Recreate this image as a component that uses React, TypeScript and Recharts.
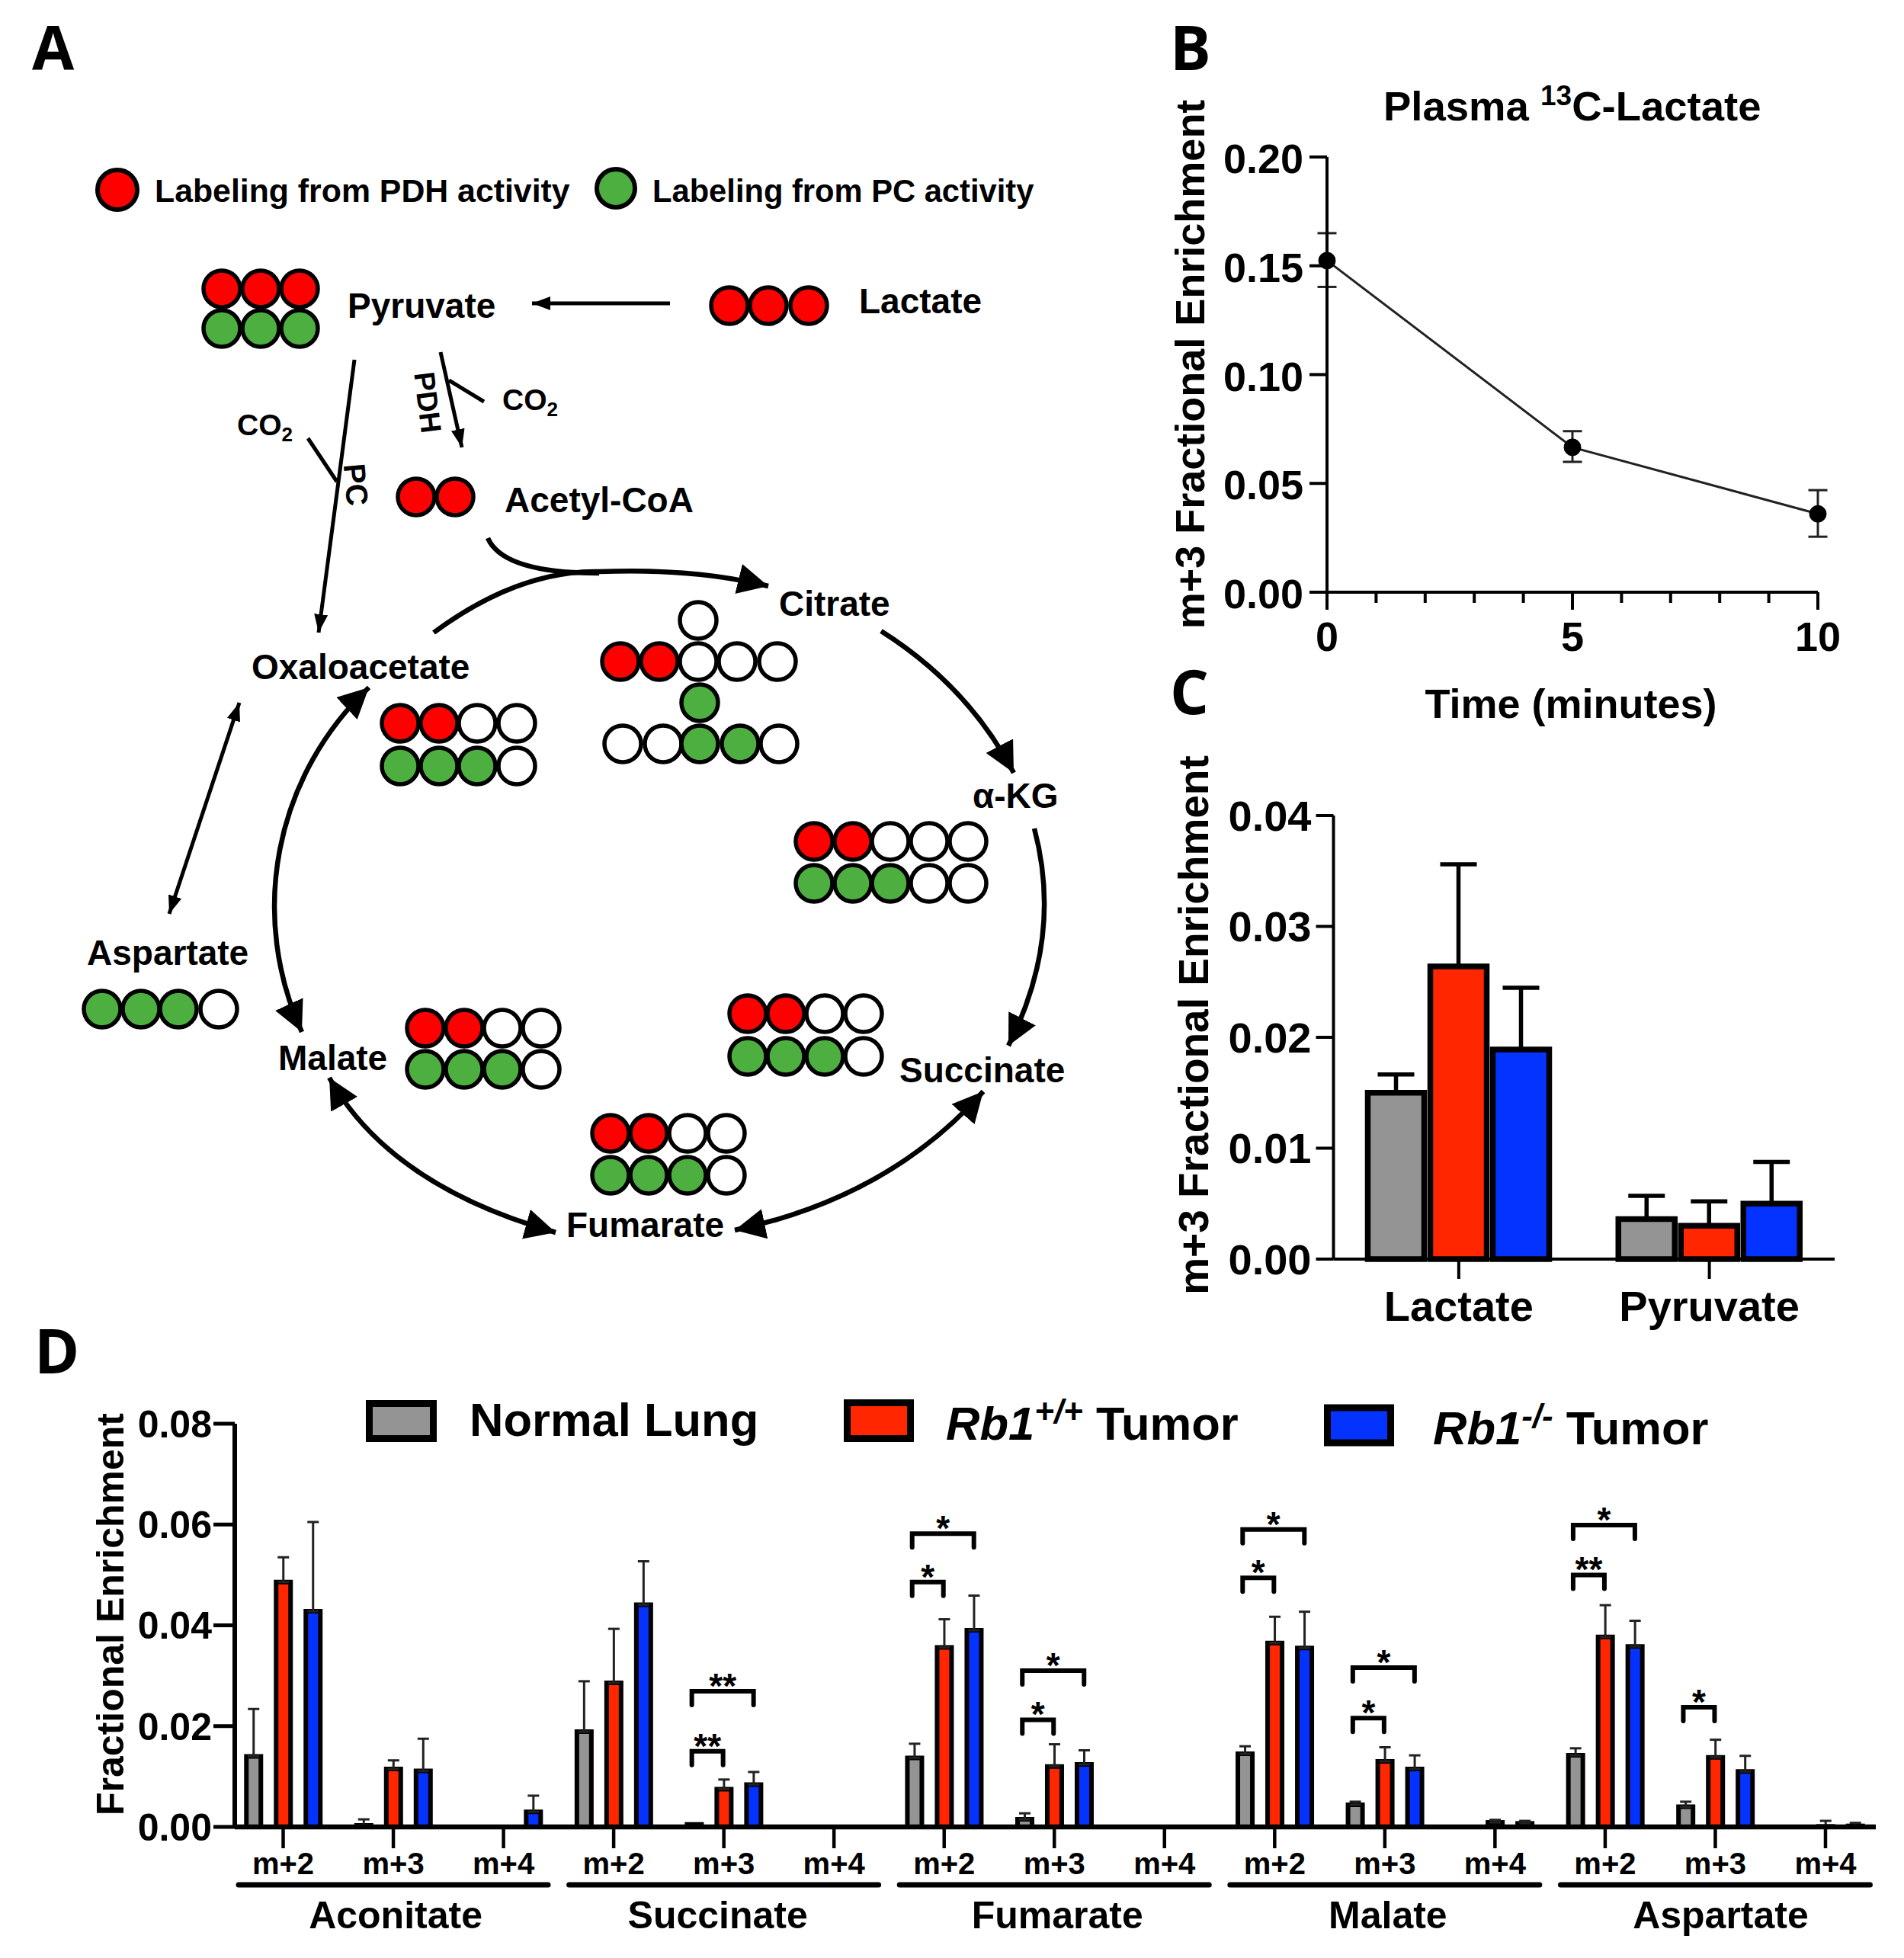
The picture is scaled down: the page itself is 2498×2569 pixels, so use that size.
import React from 'react';
import {
  Bar,
  BarChart,
  ComposedChart,
  ErrorBar,
  Label,
  Line,
  LineChart,
  XAxis,
  YAxis,
} from 'recharts';

const FONT = "'Liberation Sans', Arial, sans-serif";
const GRAY = '#949494';
const RED = '#FF2600';
const BLUE = '#0433FF';
const DOT_RED = '#FF0000';
const DOT_GREEN = '#4CAF40';

// Panel B
const timeTicks = [0, 1, 2, 3, 4, 5, 6, 7, 8, 9, 10];
const lactateTimes = [0, 5, 10];
const lactateMeans = [0.1524, 0.0666, 0.036];
const lactateLows = [0.1403, 0.0599, 0.0255];
const lactateHighs = [0.165, 0.074, 0.0469];

// Panel C
const tissueNames = ['Lactate', 'Pyruvate'];
const tissueNormal = [0.015, 0.0036];
const tissueWt = [0.0264, 0.003];
const tissueKo = [0.0189, 0.005];
const tissueNormalTop = [0.01665, 0.0057];
const tissueWtTop = [0.0356, 0.0052];
const tissueKoTop = [0.02446, 0.00876];

// Panel D
const metabolites = ['Aconitate', 'Succinate', 'Fumarate', 'Malate', 'Aspartate'];
const isotopologues = [
  'm+2', 'm+3', 'm+4', 'm+2', 'm+3', 'm+4', 'm+2', 'm+3', 'm+4', 'm+2', 'm+3', 'm+4', 'm+2', 'm+3', 'm+4',
];
const normalValues = [0.014, 0.0003, 0, 0.0189, 0.0005, 0, 0.0137, 0.0015, 0, 0.0145, 0.0044, 0, 0.0142, 0.004, 0];
const normalTops = [0.0234, 0.0015, null, 0.0289, null, null, 0.0165, 0.0027, null, 0.016, 0.005, null, 0.0156, 0.005, null];
const wtValues = [0.0486, 0.0115, 0, 0.0286, 0.0075, 0, 0.0356, 0.012, 0, 0.0365, 0.013, 0.0009, 0.0377, 0.0138, 0.0001];
const wtTops = [0.0535, 0.0132, null, 0.0393, 0.0094, null, 0.0412, 0.0164, null, 0.0417, 0.0158, 0.0014, 0.044, 0.0173, 0.0012];
const koValues = [0.0428, 0.0111, 0.003, 0.0441, 0.0084, 0, 0.039, 0.0124, 0, 0.0355, 0.0115, 0.0007, 0.0358, 0.011, 0.0002];
const koTops = [0.0605, 0.0175, 0.0062, 0.0527, 0.0109, null, 0.0459, 0.0152, null, 0.0427, 0.0142, 0.0012, 0.0409, 0.0141, 0.0008];
// significance brackets: level on the y axis and the stars above it
const nearBracketLevels = [null, null, null, null, 0.015, null, 0.0486, 0.02125, null, 0.0494, 0.0216, null, 0.05, 0.02375, null];
const nearBracketStars = ['', '', '', '', '**', '', '*', '*', '', '*', '*', '', '**', '*', ''];
const farBracketLevels = [null, null, null, null, 0.0269, null, 0.0582, 0.031, null, 0.059, 0.0316, null, 0.0599, null, null];
const farBracketStars = ['', '', '', '', '**', '', '*', '*', '', '*', '*', '', '*', '', ''];

const errorFrom = (value: number, top: number | null) => (top == null ? null : [0, top - value]);

const lactateData = lactateTimes.map((time, i) => ({
  time,
  mean: lactateMeans[i],
  err: [lactateMeans[i] - lactateLows[i], lactateHighs[i] - lactateMeans[i]],
}));

const tissueData = tissueNames.map((name, i) => ({
  name,
  normal: tissueNormal[i],
  wt: tissueWt[i],
  ko: tissueKo[i],
  normalErr: errorFrom(tissueNormal[i], tissueNormalTop[i]),
  wtErr: errorFrom(tissueWt[i], tissueWtTop[i]),
  koErr: errorFrom(tissueKo[i], tissueKoTop[i]),
}));

const enrichmentData = isotopologues.map((label, i) => ({
  key: `${label}-${i}`,
  label,
  normal: normalValues[i],
  wt: wtValues[i],
  ko: koValues[i],
  normalErr: errorFrom(normalValues[i], normalTops[i]),
  wtErr: errorFrom(wtValues[i], wtTops[i]),
  koErr: errorFrom(koValues[i], koTops[i]),
  near: nearBracketLevels[i],
  far: farBracketLevels[i],
  nearStars: nearBracketStars[i],
  farStars: farBracketStars[i],
}));

const boldText = { fontFamily: FONT, fontWeight: 700, fill: '#000' };

const rotatedTitle = (text: string, x: number, y: number, size: number) => () => (
  <text transform={`rotate(-90 ${x} ${y})`} x={x} y={y} textAnchor="middle" fontSize={size} {...boldText}>
    {text}
  </text>
);

function TimeTick({ x, y, payload }: any) {
  const major = payload.value % 5 === 0;
  return (
    <g>
      <line x1={x} x2={x} y1={y} y2={y + (major ? 23 : 14)} stroke="#000" strokeWidth={4} />
      {major && (
        <text x={x} y={y + 77} textAnchor="middle" fontSize={54} {...boldText}>
          {payload.value}
        </text>
      )}
    </g>
  );
}

const groupNudge = [3, -8, 4, 4, 7];

function IsotopologueTick({ x, y, payload, index }: any) {
  const group = Math.floor(index / 3);
  return (
    <g>
      <line x1={x} x2={x} y1={y} y2={y + 28} stroke="#000" strokeWidth={4.5} />
      <text x={x} y={y + 62} textAnchor="middle" fontSize={40} fontFamily={FONT} fontWeight={700}>
        {payload.value}
      </text>
      {index % 3 === 1 && (
        <g>
          <line x1={x - 203} x2={x + 203} y1={y + 76} y2={y + 76} stroke="#000" strokeWidth={7} strokeLinecap="round" />
          <text x={x + groupNudge[group]} y={y + 133} textAnchor="middle" fontSize={50} {...boldText}>
            {metabolites[group]}
          </text>
        </g>
      )}
    </g>
  );
}

function bracketDot(kind: 'near' | 'far') {
  return ({ cx, cy, payload, index }: any) => {
    if (cy == null || payload[kind] == null) return <g key={index} />;
    const left = cx - 42;
    const right = kind === 'near' ? cx - 1 : cx + 39;
    return (
      <g key={index}>
        <path
          d={`M${left} ${cy + 18}V${cy}H${right}V${cy + 18}`}
          fill="none"
          stroke="#000"
          strokeWidth={6}
          strokeLinecap="round"
        />
        <text x={(left + right) / 2} y={cy + 9} textAnchor="middle" fontSize={46} {...boldText}>
          {payload[kind === 'near' ? 'nearStars' : 'farStars']}
        </text>
      </g>
    );
  };
}

function PlasmaChart() {
  return (
    <div style={{ position: 'absolute', left: 1500, top: 100 }}>
      <LineChart width={980} height={880} data={lactateData} margin={{ top: 106, right: 95, bottom: 0, left: 0 }}>
        <XAxis
          dataKey="time"
          type="number"
          domain={[0, 10]}
          ticks={timeTicks}
          interval={0}
          height={203}
          tickLine={false}
          tickSize={0}
          tickMargin={0}
          tick={TimeTick}
          axisLine={{ stroke: '#000', strokeWidth: 4 }}
        >
          <Label
            content={() => (
              <text x={561} y={842} textAnchor="middle" fontSize={54} {...boldText}>
                Time (minutes)
              </text>
            )}
          />
        </XAxis>
        <YAxis
          type="number"
          domain={[0, 0.2]}
          ticks={[0, 0.05, 0.1, 0.15, 0.2]}
          tickFormatter={(v: number) => v.toFixed(2)}
          width={241}
          tickSize={23}
          tickMargin={8}
          tick={{ fontSize: 54, fontFamily: FONT, fontWeight: 700, fill: '#000', dy: 2 }}
          tickLine={{ stroke: '#000', strokeWidth: 4 }}
          axisLine={{ stroke: '#000', strokeWidth: 4 }}
        >
          <Label content={rotatedTitle('m+3 Fractional Enrichment', 80, 378, 54)} />
        </YAxis>
        <Line
          dataKey="mean"
          stroke="#222"
          strokeWidth={3}
          dot={{ r: 11, fill: '#000', stroke: '#000', strokeWidth: 1 }}
          isAnimationActive={false}
        >
          <ErrorBar dataKey="err" direction="y" width={12.5} stroke="#222" strokeWidth={3} isAnimationActive={false} />
        </Line>
      </LineChart>
    </div>
  );
}

function TissueChart() {
  const series = [
    { key: 'normal', fill: GRAY },
    { key: 'wt', fill: RED },
    { key: 'ko', fill: BLUE },
  ];
  return (
    <div style={{ position: 'absolute', left: 1500, top: 960 }}>
      <BarChart
        width={960}
        height={830}
        data={tissueData}
        barSize={74}
        barGap={8}
        margin={{ top: 110, right: 53, bottom: 0, left: 0 }}
      >
        <XAxis
          dataKey="name"
          height={138}
          interval={0}
          tickSize={26}
          tickMargin={15}
          tick={{ fontSize: 56, fontFamily: FONT, fontWeight: 700, fill: '#000' }}
          tickLine={{ stroke: '#000', strokeWidth: 4 }}
          axisLine={{ stroke: '#000', strokeWidth: 4 }}
        />
        <YAxis
          type="number"
          domain={[0, 0.04]}
          ticks={[0, 0.01, 0.02, 0.03, 0.04]}
          tickFormatter={(v: number) => v.toFixed(2)}
          width={249.5}
          tickSize={23}
          tickMargin={6}
          tick={{ fontSize: 56, fontFamily: FONT, fontWeight: 700, fill: '#000' }}
          tickLine={{ stroke: '#000', strokeWidth: 4 }}
          axisLine={{ stroke: '#000', strokeWidth: 4 }}
        >
          <Label content={rotatedTitle('m+3 Fractional Enrichment', 85, 385, 55)} />
        </YAxis>
        {series.map((s) => (
          <Bar key={s.key} dataKey={s.key} fill={s.fill} stroke="#000" strokeWidth={7.5} isAnimationActive={false}>
            <ErrorBar
              dataKey={`${s.key}Err`}
              direction="y"
              width={24}
              stroke="#000"
              strokeWidth={5.5}
              isAnimationActive={false}
            />
          </Bar>
        ))}
      </BarChart>
    </div>
  );
}

function EnrichmentChart() {
  const series = [
    { key: 'normal', fill: GRAY },
    { key: 'wt', fill: RED },
    { key: 'ko', fill: BLUE },
  ];
  return (
    <div style={{ position: 'absolute', left: 0, top: 1780 }}>
      <ComposedChart
        width={2490}
        height={789}
        data={enrichmentData}
        barSize={19}
        barGap={20}
        margin={{ top: 88, right: 29, bottom: 0, left: 0 }}
      >
        <XAxis
          dataKey="key"
          height={172}
          interval={0}
          padding={{ left: -8.75, right: -6.25 }}
          tickLine={false}
          tickSize={0}
          tickMargin={0}
          tick={(props: any) => (
            <IsotopologueTick {...props} payload={{ value: isotopologues[props.index] }} />
          )}
          axisLine={{ stroke: '#000', strokeWidth: 6.5 }}
        />
        <YAxis
          type="number"
          domain={[0, 0.08]}
          ticks={[0, 0.02, 0.04, 0.06, 0.08]}
          tickFormatter={(v: number) => v.toFixed(2)}
          width={308}
          tickSize={28}
          tickMargin={2}
          tick={{ fontSize: 50, fontFamily: FONT, fontWeight: 700, fill: '#000' }}
          tickLine={{ stroke: '#000', strokeWidth: 5 }}
          axisLine={{ stroke: '#000', strokeWidth: 6 }}
        >
          <Label content={rotatedTitle('Fractional Enrichment', 162, 338, 50)} />
        </YAxis>
        {series.map((s) => (
          <Bar key={s.key} dataKey={s.key} fill={s.fill} stroke="#000" strokeWidth={6} isAnimationActive={false}>
            <ErrorBar
              dataKey={`${s.key}Err`}
              direction="y"
              width={7.5}
              stroke="#222"
              strokeWidth={3}
              isAnimationActive={false}
            />
          </Bar>
        ))}
        <Line dataKey="near" stroke="none" connectNulls={false} dot={bracketDot('near')} isAnimationActive={false} />
        <Line dataKey="far" stroke="none" connectNulls={false} dot={bracketDot('far')} isAnimationActive={false} />
      </ComposedChart>
    </div>
  );
}

// ---- Panel A: pathway diagram ----

const dotFill: Record<string, string> = { r: DOT_RED, g: DOT_GREEN, w: '#fff' };

function Atoms({ xs, y, pattern }: { xs: number[]; y: number; pattern: string }) {
  return (
    <>
      {xs.map((x, i) => (
        <circle key={i} cx={x} cy={y} r={24} fill={dotFill[pattern[i]]} stroke="#000" strokeWidth={5.5} />
      ))}
    </>
  );
}

const diagramLabels: [string, number, number][] = [
  ['Pyruvate', 456, 417],
  ['Lactate', 1127, 411],
  ['Acetyl-CoA', 662, 672],
  ['Citrate', 1022, 808],
  ['Oxaloacetate', 330, 891],
  ['α-KG', 1276, 1060],
  ['Aspartate', 114, 1266],
  ['Malate', 365, 1404],
  ['Succinate', 1180, 1420],
  ['Fumarate', 743, 1623],
];

function CO2({ x, y }: { x: number; y: number }) {
  return (
    <text x={x} y={y} fontSize={39} {...boldText}>
      CO
      <tspan fontSize={26} dy={8}>
        2
      </tspan>
    </text>
  );
}

function Diagram() {
  const arrow = { fill: 'none', stroke: '#000', strokeWidth: 6.5 };
  const thin = { fill: 'none', stroke: '#000', strokeWidth: 5 };
  return (
    <g>
      <defs>
        <marker id="big" viewBox="0 0 40 40" refX="40" refY="20" markerWidth="40" markerHeight="40" markerUnits="userSpaceOnUse" orient="auto-start-reverse">
          <path d="M0 0L40 20L0 40Z" fill="#000" />
        </marker>
        <marker id="small" viewBox="0 0 24 18" refX="24" refY="9" markerWidth="24" markerHeight="18" markerUnits="userSpaceOnUse" orient="auto-start-reverse">
          <path d="M0 0L24 9L0 18Z" fill="#000" />
        </marker>
      </defs>

      <circle cx={154} cy={249} r={26} fill={DOT_RED} stroke="#000" strokeWidth={6} />
      <circle cx={808} cy={247} r={25} fill={DOT_GREEN} stroke="#000" strokeWidth={6} />
      <text x={203} y={265} fontSize={42.8} {...boldText}>Labeling from PDH activity</text>
      <text x={856} y={265} fontSize={41.7} {...boldText}>Labeling from PC activity</text>

      <Atoms xs={[291, 342, 393]} y={379} pattern="rrr" />
      <Atoms xs={[291, 342, 393]} y={431} pattern="ggg" />
      <Atoms xs={[957, 1008, 1061]} y={401} pattern="rrr" />
      <Atoms xs={[546, 597]} y={652} pattern="rr" />
      <Atoms xs={[916]} y={814} pattern="w" />
      <Atoms xs={[814, 865, 916, 967, 1020]} y={868} pattern="rrwww" />
      <Atoms xs={[918]} y={922} pattern="g" />
      <Atoms xs={[817, 870, 918, 971, 1022]} y={976} pattern="wwggw" />
      <Atoms xs={[525, 576, 626, 678]} y={949} pattern="rrww" />
      <Atoms xs={[525, 576, 626, 678]} y={1005} pattern="gggw" />
      <Atoms xs={[1068, 1119, 1168, 1219, 1270]} y={1104} pattern="rrwww" />
      <Atoms xs={[1068, 1119, 1168, 1219, 1270]} y={1159} pattern="gggww" />
      <Atoms xs={[981, 1031, 1082, 1133]} y={1330} pattern="rrww" />
      <Atoms xs={[981, 1031, 1082, 1133]} y={1386} pattern="gggw" />
      <Atoms xs={[558, 609, 659, 710]} y={1349} pattern="rrww" />
      <Atoms xs={[558, 609, 659, 710]} y={1403} pattern="gggw" />
      <Atoms xs={[801, 851, 902, 953]} y={1487} pattern="rrww" />
      <Atoms xs={[801, 851, 902, 953]} y={1542} pattern="gggw" />
      <Atoms xs={[134, 185, 234, 287]} y={1324} pattern="gggw" />

      {diagramLabels.map(([text, x, y]) => (
        <text key={text} x={x} y={y} fontSize={46} {...boldText}>
          {text}
        </text>
      ))}

      <line x1={879} y1={398} x2={698} y2={398} {...thin} markerEnd="url(#small)" />
      <line x1={578} y1={462} x2={606} y2={587} {...thin} markerEnd="url(#small)" />
      <line x1={589} y1={499} x2={635} y2={527} {...thin} />
      <line x1={465} y1={472} x2={418} y2={830} {...thin} markerEnd="url(#small)" />
      <line x1={404} y1={575} x2={442} y2={632} {...thin} />
      <line x1={222} y1={1199} x2={314} y2={922} {...thin} markerStart="url(#small)" markerEnd="url(#small)" />

      <text transform="rotate(83 561 528)" x={561} y={541} textAnchor="middle" fontSize={38} {...boldText}>PDH</text>
      <text transform="rotate(85 467 636)" x={467} y={650} textAnchor="middle" fontSize={40} {...boldText}>PC</text>
      <CO2 x={659} y={538} />
      <CO2 x={311} y={571} />

      <path d="M640 706Q660 752 786 752" {...arrow} />
      <path d="M569 830Q680 748 786 750Q910 745 1008 769" {...arrow} markerEnd="url(#big)" />
      <path d="M1156 828Q1270 900 1330 1014" {...arrow} markerEnd="url(#big)" />
      <path d="M1357 1087Q1395 1230 1323 1372" {...arrow} markerEnd="url(#big)" />
      <path d="M1290 1432Q1167 1571 964 1614" {...arrow} markerStart="url(#big)" markerEnd="url(#big)" />
      <path d="M432 1414Q512 1556 729 1617" {...arrow} markerStart="url(#big)" markerEnd="url(#big)" />
      <path d="M484 902A395 395 0 0 0 396 1354" {...arrow} markerStart="url(#big)" markerEnd="url(#big)" />
    </g>
  );
}

function PanelLetter({ text, x, y }: { text: string; x: number; y: number }) {
  return (
    <text x={x} y={y} fontSize={80} fontFamily="'Open Sans', sans-serif" fontWeight={700} fill="#000">
      {text}
    </text>
  );
}

function Legend() {
  const box = { strokeWidth: 9, stroke: '#000' };
  const size = 61.5;
  return (
    <g>
      <rect x={484.5} y={1841.5} width={84} height={46} fill={GRAY} {...box} />
      <text x={616} y={1884} fontSize={size} {...boldText}>Normal Lung</text>
      <rect x={1111.5} y={1840.5} width={83} height={47} fill={RED} {...box} />
      <text x={1241} y={1889} fontSize={size} {...boldText}>
        <tspan fontStyle="italic">Rb1</tspan>
        <tspan fontStyle="italic" fontSize={44} dy={-22}>+/+</tspan>
        <tspan dy={22}> Tumor</tspan>
      </text>
      <rect x={1741.5} y={1847} width={83} height={46} fill={BLUE} {...box} />
      <text x={1880} y={1895} fontSize={size} {...boldText}>
        <tspan fontStyle="italic">Rb1</tspan>
        <tspan fontStyle="italic" fontSize={44} dy={-22}>-/-</tspan>
        <tspan dy={22}> Tumor</tspan>
      </text>
    </g>
  );
}

export default function App() {
  return (
    <div style={{ position: 'absolute', left: 0, top: 0, width: 2498, height: 2569, background: '#fff', overflow: 'hidden' }}>
      <svg width={2498} height={2569} style={{ position: 'absolute', left: 0, top: 0 }}>
        <PanelLetter text="A" x={42} y={92} />
        <PanelLetter text="B" x={1535} y={92} />
        <PanelLetter text="C" x={1535} y={937} />
        <PanelLetter text="D" x={45} y={1802} />
        <Diagram />
        <text x={1815} y={158} fontSize={54.5} {...boldText}>
          Plasma <tspan fontSize={37} dy={-20}>13</tspan>
          <tspan dy={20}>C-Lactate</tspan>
        </text>
        <Legend />
      </svg>
      <PlasmaChart />
      <TissueChart />
      <EnrichmentChart />
    </div>
  );
}
